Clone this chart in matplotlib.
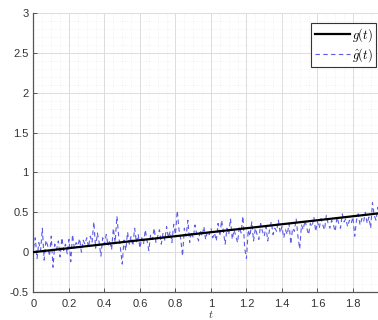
import numpy as np
import matplotlib
matplotlib.use('Agg')
import matplotlib.pyplot as plt
from matplotlib.ticker import MultipleLocator

plt.rcParams['font.family'] = 'Liberation Sans'
plt.rcParams['mathtext.fontset'] = 'cm'

# time axis and the clean signal endpoints
t = np.arange(0, 2.001, 0.01)
t_line = [0.0, 2.0]
g_line = [0.0, 0.5]

# noisy estimate, one value per sample
g_hat = [
    0.05, 0.18, -0.08, 0.12, 0.02, 0.30, -0.10, 0.15, 0.08, -0.05,
    0.20, -0.19, 0.10, 0.03, 0.14, -0.06, 0.18, 0.02, 0.10, -0.02,
    0.16, -0.12, 0.22, 0.05, 0.12, 0.08, 0.17, 0.00, 0.15, 0.10,
    0.18, 0.06, 0.20, 0.12, 0.38, 0.05, 0.24, 0.12, -0.05, 0.18,
    0.10, 0.22, 0.08, 0.15, 0.03, 0.30, 0.12, 0.45, 0.20, 0.05,
    -0.15, 0.15, 0.02, 0.25, 0.10, 0.20, 0.08, 0.30, 0.12, 0.22,
    0.05, 0.18, 0.10, 0.28, 0.14, 0.02, 0.22, 0.16, 0.30, 0.12,
    0.20, 0.28, 0.10, 0.24, 0.15, 0.32, 0.18, 0.26, 0.12, 0.35,
    0.22, 0.52, 0.28, 0.16, -0.05, 0.30, 0.20, 0.40, 0.12, 0.26,
    0.18, 0.34, 0.22, 0.14, 0.28, 0.20, 0.32, 0.16, 0.26, 0.22,
    0.30, 0.18, 0.24, 0.14, 0.36, 0.20, 0.40, 0.26, 0.10, 0.30,
    0.22, 0.42, 0.16, 0.28, 0.20, 0.12, 0.32, 0.24, 0.45, 0.05,
    -0.08, 0.28, 0.20, 0.38, 0.14, 0.30, 0.22, 0.16, 0.36, 0.26,
    0.20, 0.32, 0.14, 0.28, 0.38, 0.22, 0.30, 0.26, 0.40, 0.24,
    0.32, 0.18, 0.28, 0.22, 0.36, 0.10, 0.30, 0.26, 0.42, 0.20,
    0.04, 0.34, 0.28, 0.40, 0.30, 0.22, 0.36, 0.32, 0.44, 0.26,
    0.38, 0.30, 0.42, 0.34, 0.28, 0.46, 0.36, 0.30, 0.40, 0.34,
    0.26, 0.44, 0.36, 0.30, 0.48, 0.38, 0.42, 0.32, 0.40, 0.36,
    0.44, 0.20, 0.40, 0.48, 0.34, 0.42, 0.38, 0.50, 0.36, 0.44,
    0.30, 0.62, 0.46, 0.40, 0.56, 0.44, 0.52, 0.48, 0.46, 0.50,
    0.52,
]

y_ticks = [-0.5, 0, 0.5, 1, 1.5, 2, 2.5, 3]
y_tick_labels = ['-0.5', '0', '0.5', '1', '1.5', '2', '2.5', '3']
x_ticks = [0, 0.2, 0.4, 0.6, 0.8, 1, 1.2, 1.4, 1.6, 1.8]
x_tick_labels = ['0', '0.2', '0.4', '0.6', '0.8', '1', '1.2', '1.4', '1.6', '1.8']

fig = plt.figure(figsize=(3.78, 3.2), dpi=100)
ax = fig.add_axes([0.0886, 0.0875, 0.939, 0.872])

ax.plot(t_line, g_line, color='black', lw=1.6, label=r'$g(t)$', zorder=3)
ax.plot(t, g_hat, color='#5b5be6', lw=0.8, ls=(0, (4, 3)), label=r'$\hat{g}(t)$', zorder=2)

ax.set_xlim(0, 2)
ax.set_ylim(-0.5, 3)
ax.set_xticks(x_ticks)
ax.set_xticklabels(x_tick_labels)
ax.set_yticks(y_ticks)
ax.set_yticklabels(y_tick_labels)
ax.xaxis.set_minor_locator(MultipleLocator(0.05))
ax.yaxis.set_minor_locator(MultipleLocator(0.1))

ax.grid(True, which='major', color='#dcdcdc', lw=0.7)
ax.grid(True, which='minor', color='#ececec', lw=0.5, ls=':')
ax.set_axisbelow(True)

for side in ['top', 'right']:
    ax.spines[side].set_visible(False)
for side in ['left', 'bottom']:
    ax.spines[side].set_color('#555555')
    ax.spines[side].set_linewidth(0.9)

ax.tick_params(which='major', direction='in', length=3, width=0.7, colors='#555555',
               labelsize=8, labelcolor='#333333')
ax.tick_params(which='minor', length=0)
ax.tick_params(axis='x', pad=5)

ax.set_xlabel(r'$t$', fontsize=8, color='#333333', labelpad=0)

leg = ax.legend(loc='upper right', bbox_to_anchor=(0.995, 0.928),
                bbox_transform=fig.transFigure, fontsize=9, frameon=True,
                fancybox=False, edgecolor='#333333', framealpha=1,
                handlelength=2.8, handletextpad=0.2, borderpad=0.25,
                labelspacing=0.15, borderaxespad=0)
leg.get_frame().set_linewidth(0.8)

fig.savefig('out.png', dpi=100)
